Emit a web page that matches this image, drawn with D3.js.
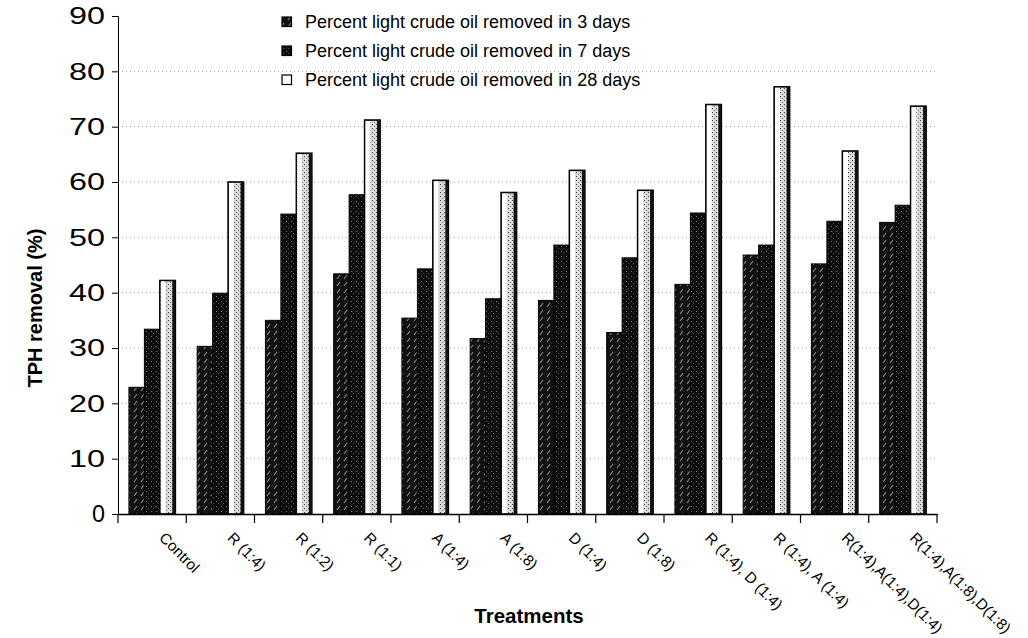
<!DOCTYPE html>
<html><head><meta charset="utf-8">
<script src="https://cdn.jsdelivr.net/npm/d3@7"></script>
<style>body{margin:0;background:#fff}svg{display:block}text{font-family:"Liberation Sans",Arial,sans-serif}</style>
</head><body>
<svg id="c" width="1028" height="638"></svg>
<script>
const categories = ["Control","R (1:4)","R (1:2)","R (1:1)","A (1:4)","A (1:8)","D (1:4)","D (1:8)","R (1:4), D (1:4)","R (1:4), A (1:4)","R(1:4),A(1:4),D(1:4)","R(1:4),A(1:8),D(1:8)"];
const seriesNames = ["Percent light crude oil removed in 3 days","Percent light crude oil removed in 7 days","Percent light crude oil removed in 28 days"];
const days3  = [22.9, 30.3, 35.0, 43.4, 35.4, 31.7, 38.6, 32.8, 41.5, 46.8, 45.2, 52.7];
const days7  = [33.4, 39.9, 54.2, 57.7, 44.3, 38.9, 48.6, 46.3, 54.4, 48.6, 52.9, 55.8];
const days28 = [42.2, 60.0, 65.2, 71.2, 60.3, 58.1, 62.1, 58.5, 74.0, 77.2, 65.6, 73.7];
const yTicks = [0,10,20,30,40,50,60,70,80,90];

const seriesVals = [days3, days7, days28];
const keys = ["d3","d7","d28"];
const svg = d3.select("#c");
const defs = svg.append("defs");
// patterns
const p3 = defs.append("pattern").attr("id","p3").attr("patternUnits","userSpaceOnUse").attr("width",7).attr("height",7);
p3.append("rect").attr("width",7).attr("height",7).attr("fill","#111");
p3.append("path").attr("d","M1,6 L4,2").attr("stroke","#8a8a8a").attr("stroke-width",1.1);
const p7 = defs.append("pattern").attr("id","p7").attr("patternUnits","userSpaceOnUse").attr("width",5).attr("height",5);
p7.append("rect").attr("width",5).attr("height",5).attr("fill","#0d0d0d");
p7.append("rect").attr("x",1).attr("y",1).attr("width",1).attr("height",1).attr("fill","#777");
p7.append("rect").attr("x",3).attr("y",3).attr("width",1).attr("height",1).attr("fill","#555");
const p28 = defs.append("pattern").attr("id","p28").attr("patternUnits","userSpaceOnUse").attr("width",4).attr("height",4);
p28.append("rect").attr("width",4).attr("height",4).attr("fill","#d8d8d8");
p28.append("rect").attr("x",0).attr("y",0).attr("width",1).attr("height",1).attr("fill","#444");
p28.append("rect").attr("x",2).attr("y",2).attr("width",1).attr("height",1).attr("fill","#777");
p28.append("rect").attr("x",1).attr("y",3).attr("width",1).attr("height",1).attr("fill","#fff");
const fills = {d3:"url(#p3)", d7:"url(#p7)", d28:"url(#p28)"};

const L = 118, R = 937, T = 16, B = 514;
const x = d3.scaleBand().domain(categories).range([L, R]).padding(0);
const bw = x.bandwidth();
const x1 = d3.scaleBand().domain(keys).range([bw*0.16, bw*0.84]).padding(0);
const y = d3.scaleLinear().domain([0, 90]).range([B, T]);

// gridlines
svg.append("g").selectAll("line").data(yTicks.filter(v => v > 0 && v < 90)).join("line")
  .attr("x1", L).attr("x2", R).attr("y1", d => y(d)).attr("y2", d => y(d))
  .attr("stroke", "#a0a0a0").attr("stroke-width", 1).attr("stroke-dasharray", "1,3");

// bars
const g = svg.append("g");
categories.forEach((c, i) => {
  keys.forEach((k, j) => {
    const v = seriesVals[j][i];
    const bx = x(c) + x1(k);
    g.append("rect").attr("x", bx).attr("y", y(v)).attr("width", x1.bandwidth()).attr("height", y(0) - y(v))
      .attr("fill", fills[k]).attr("stroke", "#000").attr("stroke-width", k === "d28" ? 1.6 : 1);
    if (k === "d28") {
      g.append("rect").attr("x", bx + 1).attr("y", y(v) + 1).attr("width", x1.bandwidth()*0.3).attr("height", y(0) - y(v) - 2).attr("fill", "#fff");
      g.append("rect").attr("x", bx + x1.bandwidth() - 3).attr("y", y(v)).attr("width", 3).attr("height", y(0) - y(v)).attr("fill", "#111");
    }
  });
});

// y axis
const ya = svg.append("g").attr("transform", `translate(${L},0)`)
  .call(d3.axisLeft(y).tickValues(yTicks).tickSize(6).tickPadding(7).tickFormat(d3.format("d")));
ya.selectAll("text").attr("font-size", 24).attr("fill", "#000")
  .style("font-family", "'Liberation Sans', Arial, sans-serif")
  .attr("textLength", d => String(d).length > 1 ? 36 : 13).attr("lengthAdjust", "spacingAndGlyphs");
ya.selectAll("line,path").attr("stroke", "#000");

// x axis
const xa = svg.append("g").attr("transform", `translate(0,${B})`)
  .call(d3.axisBottom(x).tickSize(0).tickFormat(""));
xa.select("path").attr("stroke", "#000").attr("stroke-width", 1.3);
const bounds = categories.map(c => x(c)).concat([x(categories[categories.length-1]) + bw]);
svg.append("g").selectAll("line").data(bounds).join("line")
  .attr("x1", d => d).attr("x2", d => d).attr("y1", B).attr("y2", B + 9).attr("stroke", "#000").attr("stroke-width", 1.2);

svg.append("g").selectAll("text").data(categories).join("text")
  .attr("transform", d => `translate(${x(d) + bw/2 + 10},${B + 21}) rotate(45)`)
  .attr("font-size", 15.3).attr("fill", "#000").attr("text-anchor", "start").attr("dy", "0.35em")
  .text(d => d);

// axis titles
svg.append("text").attr("transform", "translate(35,308) rotate(-90)").attr("text-anchor", "middle")
  .attr("font-size", 20).attr("font-weight", "bold").attr("dy", "0.35em").text("TPH removal (%)");
svg.append("text").attr("x", 529).attr("y", 623).attr("text-anchor", "middle")
  .attr("font-size", 20.5).attr("font-weight", "bold").text("Treatments");

// legend
const lg = svg.append("g");
seriesNames.forEach((s, i) => {
  const ly = 21.5 + i * 29;
  lg.append("rect").attr("x", 282).attr("y", ly - 4.5).attr("width", 9.5).attr("height", 9.5)
    .attr("fill", i === 2 ? "#fff" : fills[keys[i]]).attr("stroke", "#000").attr("stroke-width", 1.2);
  lg.append("text").attr("x", 305).attr("y", ly).attr("dy", "0.35em").attr("font-size", 18).attr("fill", "#000").text(s);
});
</script>
</body></html>
